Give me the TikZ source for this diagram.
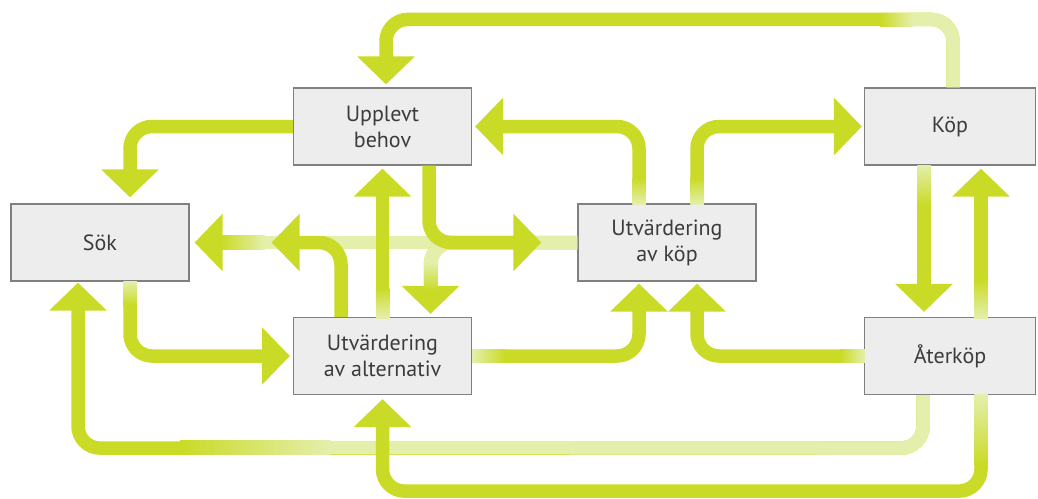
\documentclass[tikz,border=0pt]{standalone}
\usepackage{fontspec}
\setmainfont{PT Sans}
\usetikzlibrary{arrows.meta, positioning, calc}
\definecolor{arrowgreen}{RGB}{201,219,38}
\definecolor{arrowpale}{RGB}{229,239,172}
\definecolor{boxgray}{RGB}{237,237,237}
\definecolor{boxline}{RGB}{128,128,128}
\definecolor{textgray}{RGB}{60,60,60}

\begin{document}
\begin{tikzpicture}[
    x=0.5pt, y=-0.5pt,
    stage/.style={rectangle, draw=boxline, line width=0.6pt, fill=boxgray, minimum width=89pt, minimum height=38.5pt, align=center, font=\fontsize{11}{13}\selectfont, text=textgray},
    flow/.style={-{Triangle[width=28pt, length=14pt]}, line width=6.75pt, draw=arrowgreen, rounded corners=11pt},
    faded/.style={line width=6.75pt, draw=arrowpale, rounded corners=11pt}
]
    \useasboundingbox (0,0) rectangle (1038,498);

    % Stages
    \node[stage] (upplevt) at (382.5,126.5) {Upplevt\\behov};
    \node[stage] (soek) at (100,242.5) {Sök};
    \node[stage] (altern) at (382.5,356) {Utvärdering\\av alternativ};
    \node[stage] (evalkop) at (667,242.5) {Utvärdering\\av köp};
    \node[stage, minimum width=85.5pt] (kop) at (950,126.5) {Köp};
    \node[stage, minimum width=85.5pt] (aterkop) at (950,356) {Återköp};

    % Top loop
    \draw[flow, shorten >=1.5pt] ([xshift=1.5pt]kop.north) -- ++(0,-68) -| ([xshift=1.75pt]upplevt.north);
    \draw[faded] ([xshift=1.5pt]kop.north) -- ++(0,-68) -- ++(-40,0);
    \shade[left color=arrowgreen, right color=arrowpale] (880,13.25) rectangle (913,26.75);

    % Left side
    \draw[flow, shorten >=3pt] (upplevt.west) -| ([xshift=15pt]soek.north);
    \draw[flow, shorten >=1.5pt] ([xshift=15pt]soek.south) |- (altern.west);
    \shade[top color=arrowpale, bottom color=arrowgreen] (123.25,281) rectangle (136.75,305);

    % Middle crossing
    \draw[flow, shorten >=2.5pt] (evalkop.west) -- (soek.east);
    \draw[faded] (evalkop.west) -- (265,242.5);
    \shade[left color=arrowgreen, right color=arrowpale] (221,235.75) rectangle (265,249.25);

    \draw[flow, shorten >=1.5pt] (evalkop.west) -| ([xshift=24pt]altern.north);
    \draw[faded] (evalkop.west) -| (430.5,262);
    \shade[top color=arrowpale, bottom color=arrowgreen] (423.75,262) rectangle (437.25,290);

    \draw[flow] ([xshift=-20.75pt]altern.north) |- ([xshift=41pt]soek.east);
    \draw[flow] ([xshift=23.25pt]upplevt.south) |- ([xshift=-18pt]evalkop.west);
    \draw[flow, shorten >=1.5pt] (altern.north) -- (upplevt.south);
    \shade[top color=arrowgreen, bottom color=arrowpale] (375.75,288) rectangle (389.25,318);

    % Around evaluation of purchase
    \draw[flow, shorten >=1.5pt] ([xshift=-14pt]evalkop.north) |- (upplevt.east);
    \shade[top color=arrowgreen, bottom color=arrowpale] (632.25,178) rectangle (645.75,204);
    \draw[flow, shorten >=1pt] ([xshift=15pt]evalkop.north) |- (kop.west);
    \shade[top color=arrowgreen, bottom color=arrowpale] (690.25,178) rectangle (703.75,204);

    \draw[flow, shorten >=1pt] (altern.east) -| ([xshift=-14pt]evalkop.south);
    \shade[left color=arrowpale, right color=arrowgreen] (472,349.25) rectangle (505,362.75);
    \draw[flow, shorten >=1pt] (aterkop.west) -| ([xshift=15pt]evalkop.south);
    \shade[left color=arrowgreen, right color=arrowpale] (840,349.25) rectangle (865,362.75);

    % Right side
    \draw[flow, shorten >=2.5pt] ([xshift=-13pt]kop.south) -- ([xshift=-13pt]aterkop.north);
    \shade[top color=arrowpale, bottom color=arrowgreen] (917.25,165) rectangle (930.75,205);
    \draw[flow, shorten >=1.5pt] ([xshift=15.5pt]aterkop.north) -- ([xshift=15.5pt]kop.south);
    \shade[top color=arrowgreen, bottom color=arrowpale] (974.25,280) rectangle (987.75,318);

    % Bottom loops
    \draw[flow, shorten >=0.5pt] ([xshift=-13.5pt]aterkop.south) -- ++(0,53) -| ([xshift=-11pt]soek.south);
    \draw[faded] ([xshift=-13.5pt]aterkop.south) -- ++(0,53) -- (330,447.5);
    \shade[left color=arrowgreen, right color=arrowpale] (180,440.75) rectangle (330,454.25);

    \draw[flow, shorten >=2pt] ([xshift=15.5pt]aterkop.south) -- ++(0,96) -| (altern.south);
    \shade[top color=arrowpale, bottom color=arrowgreen] (974.25,394.5) rectangle (987.75,465);
\end{tikzpicture}
\end{document}
